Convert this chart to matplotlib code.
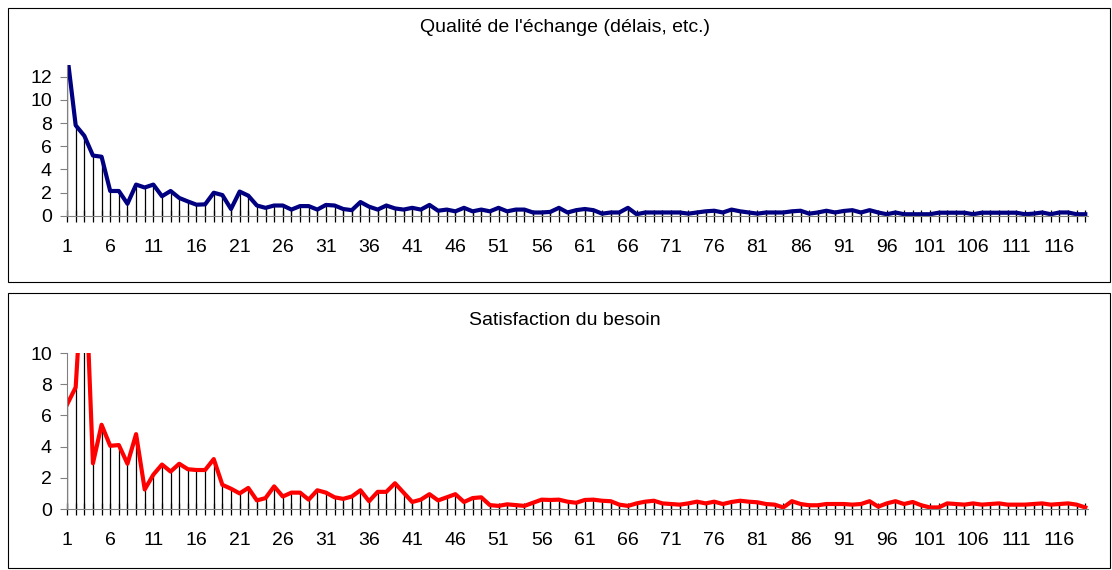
import numpy as np
import matplotlib
matplotlib.use("Agg")
import matplotlib.pyplot as plt
from matplotlib.patches import Rectangle

plt.rcParams['font.family'] = ['Liberation Sans', 'DejaVu Sans']

# values, one per category 1..119
qualite = [
    14.0, 7.8, 6.9, 5.2, 5.1, 2.15, 2.15, 1.05, 2.7, 2.45,
    2.7, 1.7, 2.15, 1.55, 1.25, 0.97, 1.0, 2.0, 1.8, 0.6,
    2.1, 1.75, 0.9, 0.7, 0.9, 0.9, 0.55, 0.85, 0.85, 0.55,
    0.95, 0.9, 0.6, 0.5, 1.2, 0.8, 0.55, 0.9, 0.65, 0.55,
    0.7, 0.55, 0.95, 0.45, 0.55, 0.4, 0.7, 0.4, 0.55, 0.4,
    0.7, 0.4, 0.55, 0.55, 0.3, 0.3, 0.35, 0.7, 0.3, 0.5,
    0.6, 0.5, 0.2, 0.3, 0.3, 0.7, 0.15, 0.3, 0.3, 0.3,
    0.3, 0.3, 0.2, 0.3, 0.4, 0.45, 0.3, 0.55, 0.4, 0.3,
    0.2, 0.3, 0.3, 0.3, 0.4, 0.45, 0.2, 0.3, 0.45, 0.3,
    0.43, 0.5, 0.3, 0.5, 0.3, 0.15, 0.3, 0.15, 0.15, 0.15,
    0.15, 0.28, 0.28, 0.28, 0.28, 0.15, 0.28, 0.28, 0.28, 0.28,
    0.28, 0.15, 0.2, 0.3, 0.15, 0.3, 0.3, 0.15, 0.15,
]
besoin = [
    6.7, 7.8, 17.0, 2.93, 5.4, 4.05, 4.1, 2.9, 4.8, 1.25,
    2.2, 2.85, 2.4, 2.9, 2.55, 2.5, 2.5, 3.2, 1.55, 1.3,
    1.0, 1.35, 0.55, 0.7, 1.45, 0.8, 1.05, 1.05, 0.6, 1.2,
    1.05, 0.75, 0.65, 0.8, 1.2, 0.5, 1.1, 1.1, 1.65, 1.05,
    0.45, 0.6, 0.95, 0.55, 0.75, 0.95, 0.45, 0.7, 0.75, 0.25,
    0.2, 0.3, 0.25, 0.2, 0.4, 0.6, 0.58, 0.6, 0.47, 0.4,
    0.58, 0.6, 0.53, 0.5, 0.28, 0.2, 0.36, 0.47, 0.53, 0.36,
    0.32, 0.28, 0.36, 0.47, 0.36, 0.47, 0.32, 0.45, 0.53, 0.47,
    0.43, 0.32, 0.28, 0.1, 0.5, 0.32, 0.24, 0.24, 0.32, 0.32,
    0.32, 0.28, 0.32, 0.5, 0.15, 0.36, 0.5, 0.32, 0.45, 0.24,
    0.1, 0.1, 0.36, 0.32, 0.28, 0.36, 0.28, 0.32, 0.36, 0.28,
    0.28, 0.28, 0.32, 0.36, 0.28, 0.32, 0.36, 0.28, 0.1,
]
titles = ["Qualité de l'échange (délais, etc.)", "Satisfaction du besoin"]
colors = ["#000080", "#FF0000"]
ymax = [13, 10]

cats = np.arange(1, len(qualite) + 1)

fig = plt.figure(figsize=(11.12, 5.7), dpi=100)

# frames around each chart
for y0, h in [(0.5053, 0.4807), (0.0035, 0.4825)]:
    fig.add_artist(Rectangle((0.0072, y0), 0.991, h, transform=fig.transFigure,
                             fill=False, edgecolor='black', lw=0.8))

positions = [[0.0603, 0.6211, 0.918, 0.265], [0.0603, 0.107, 0.918, 0.2737]]
title_y = [0.951, 0.437]

for k, vals in enumerate([qualite, besoin]):
    ax = fig.add_axes(positions[k])
    ax.vlines(cats, 0, vals, color='black', lw=0.9)
    ax.plot(cats, vals, color=colors[k], lw=3.0, solid_joinstyle='round')
    ax.set_xlim(1, 119.3)
    ax.set_ylim(0, ymax[k])
    ax.set_yticks(np.arange(0, ymax[k] + 0.1, 2)[:ymax[k] // 2 + 1])
    ax.set_xticks(cats)
    ax.set_xticklabels([str(c) if (c - 1) % 5 == 0 else '' for c in cats])
    for s in ['top', 'right']:
        ax.spines[s].set_visible(False)
    ax.spines['left'].set_color('#808080')
    ax.spines['bottom'].set_color('#808080')
    ax.tick_params(axis='x', direction='inout', length=9, width=0.9,
                   labelsize=14, pad=12)
    ax.tick_params(axis='y', direction='out', length=5, width=0.8,
                   color='#808080', labelsize=14, pad=6)
    fig.text(0.508, title_y[k], titles[k], ha='center', va='center', fontsize=14)

fig.savefig("out.png", dpi=100)
